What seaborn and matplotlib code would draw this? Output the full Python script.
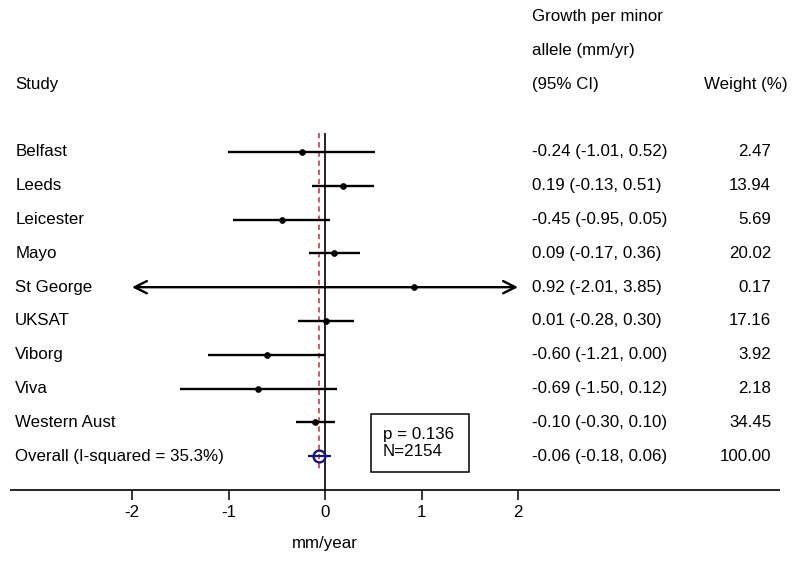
import numpy as np
import pandas as pd
import matplotlib
matplotlib.use('Agg')
import matplotlib.pyplot as plt
from matplotlib.patches import Rectangle
import seaborn as sns

# --- Data ---
studies = ['Belfast', 'Leeds', 'Leicester', 'Mayo', 'St George',
           'UKSAT', 'Viborg', 'Viva', 'Western Aust']
estimate = [-0.24, 0.19, -0.45, 0.09, 0.92, 0.01, -0.60, -0.69, -0.10]
ci_low = [-1.01, -0.13, -0.95, -0.17, -2.01, -0.28, -1.21, -1.50, -0.30]
ci_high = [0.52, 0.51, 0.05, 0.36, 3.85, 0.30, 0.00, 0.12, 0.10]
weights = [2.47, 13.94, 5.69, 20.02, 0.17, 17.16, 3.92, 2.18, 34.45]

overall_label = 'Overall (I-squared = 35.3%)'
overall_est = -0.06
overall_low = -0.18
overall_high = 0.06
overall_weight = 100.00

x_ticks = [-2, -1, 0, 1, 2]
clip_range = (-2, 2)
stats_text = 'p = 0.136\nN=2154'

df = pd.DataFrame({'study': studies, 'est': estimate, 'lo': ci_low,
                   'hi': ci_high, 'weight': weights})
df['row'] = np.arange(len(df))
overall_row = len(df)

sns.set_style('white')
plt.rcParams['font.family'] = ['Liberation Sans', 'DejaVu Sans']
plt.rcParams['text.color'] = 'black'
FS = 12.2

fig = plt.figure(figsize=(8, 5.61), dpi=100)
ax = fig.add_axes([0, 0, 1, 1])
ax.axis('off')

# axes spans whole figure: 0 -> 325 px, 96.5 px per unit; rows 33.8 px apart from 152 px
ax.set_xlim((0 - 325) / 96.5, (800 - 325) / 96.5)
ax.set_ylim((561 - 152) / 33.8, (0 - 152) / 33.8)

# reference lines
ax.vlines(0, -0.55, 10.0, color='black', lw=1.2)
ax.vlines(overall_est, -0.55, 9.45, color='#b8323f', lw=1.1,
          linestyles=(0, (3.5, 2.5)))

# confidence intervals
for _, r in df.iterrows():
    lo = max(r['lo'], clip_range[0])
    hi = min(r['hi'], clip_range[1])
    if r['lo'] < clip_range[0] or r['hi'] > clip_range[1]:
        ax.annotate('', xy=(lo, r['row']), xytext=(hi, r['row']),
                    arrowprops=dict(arrowstyle='<->', color='black', lw=1.7,
                                    mutation_scale=22, shrinkA=0, shrinkB=0))
    else:
        ax.hlines(r['row'], lo, hi, color='black', lw=1.7)

sns.scatterplot(data=df, x='est', y='row', ax=ax, color='black', s=18,
                edgecolor='black', linewidth=0.5, zorder=3, legend=False)

# overall estimate
ax.hlines(overall_row, overall_low, overall_high, color='#14147a', lw=1.6)
ax.plot([overall_est], [overall_row], marker='o', ms=8.5, mfc='none',
        mec='#14147a', mew=1.7, zorder=4)

# bottom axis
ax.hlines(10.0, (10 - 325) / 96.5, (780 - 325) / 96.5, color='black', lw=1.2)
for t in x_ticks:
    ax.vlines(t, 10.0, 10.3, color='black', lw=1.1)
    ax.text(t, 10.68, f'{t:g}', ha='center', va='center', fontsize=FS)
ax.text(0, 11.57, 'mm/year', ha='center', va='center', fontsize=FS)

# text columns
tr = ax.get_yaxis_transform()
ax.text(0.019, -2, 'Study', transform=tr, va='center', fontsize=FS)
ax.text(0.665, -4, 'Growth per minor', transform=tr, va='center', fontsize=FS)
ax.text(0.665, -3, 'allele (mm/yr)', transform=tr, va='center', fontsize=FS)
ax.text(0.665, -2, '(95% CI)', transform=tr, va='center', fontsize=FS)
ax.text(0.985, -2, 'Weight (%)', transform=tr, va='center', ha='right', fontsize=FS)

for _, r in df.iterrows():
    ax.text(0.019, r['row'], r['study'], transform=tr, va='center', fontsize=FS)
    ax.text(0.665, r['row'], f"{r['est']:.2f} ({r['lo']:.2f}, {r['hi']:.2f})",
            transform=tr, va='center', fontsize=FS)
    ax.text(0.964, r['row'], f"{r['weight']:.2f}", transform=tr, va='center',
            ha='right', fontsize=FS)

ax.text(0.019, overall_row, overall_label, transform=tr, va='center', fontsize=FS)
ax.text(0.665, overall_row,
        f"{overall_est:.2f} ({overall_low:.2f}, {overall_high:.2f})",
        transform=tr, va='center', fontsize=FS)
ax.text(0.964, overall_row, f"{overall_weight:.2f}", transform=tr, va='center',
        ha='right', fontsize=FS)

# p-value / N box
box_x0 = (371 - 325) / 96.5
box_x1 = (469 - 325) / 96.5
box_y0 = (414 - 152) / 33.8
box_y1 = (472 - 152) / 33.8
ax.add_patch(Rectangle((box_x0, box_y0), box_x1 - box_x0, box_y1 - box_y0,
                       fill=False, edgecolor='black', lw=1.1))
ax.text((383 - 325) / 96.5, (443 - 152) / 33.8, stats_text, va='center',
        ha='left', fontsize=FS, linespacing=1.15)

fig.savefig('out.png', dpi=100)
